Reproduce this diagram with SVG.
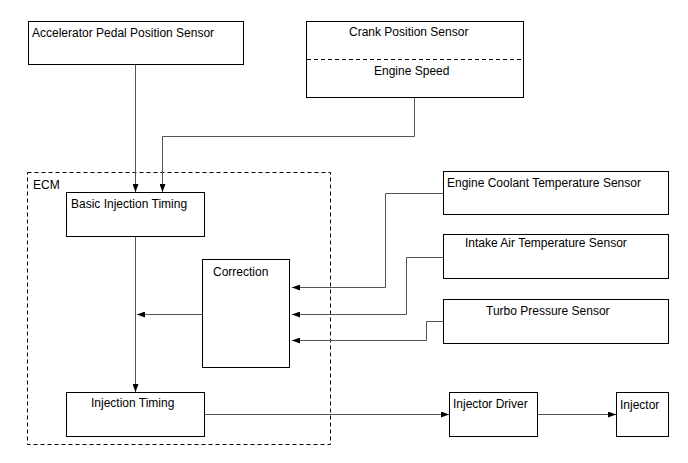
<svg xmlns="http://www.w3.org/2000/svg" width="688" height="463" viewBox="0 0 688 463">
<style>
.box{fill:#fff;stroke:#000;stroke-width:1}
.t{font-family:"Liberation Sans",Arial,sans-serif;font-size:12px;fill:#000}
.c{fill:none;stroke:#555;stroke-width:1}
.dash{fill:none;stroke:#000;stroke-width:1;stroke-dasharray:4,3}
</style>
<defs>
<marker id="ah" markerWidth="8" markerHeight="6" refX="8" refY="3" orient="auto" markerUnits="userSpaceOnUse">
<path d="M0,0 L8,3 L0,6 Z" fill="#000"/>
</marker>
</defs>
<rect width="688" height="463" fill="#fff"/>
<g id="ecm">
<rect class="dash" x="27.5" y="172.5" width="303" height="272"/>
<text class="t" x="33" y="189">ECM</text>
</g>
<g id="connectors">
<path class="c" d="M135.5,64 V192" marker-end="url(#ah)"/>
<path class="c" d="M414.5,97 V136.5 H162.5 V192" marker-end="url(#ah)"/>
<path class="c" d="M135.5,236 V392" marker-end="url(#ah)"/>
<path class="c" d="M202,314.5 H137" marker-end="url(#ah)"/>
<path class="c" d="M443,193.5 H385.5 V287.5 H292" marker-end="url(#ah)"/>
<path class="c" d="M443,257.5 H406.5 V314.5 H292" marker-end="url(#ah)"/>
<path class="c" d="M443,321.5 H426.5 V340.5 H292" marker-end="url(#ah)"/>
<path class="c" d="M204,414.5 H449" marker-end="url(#ah)"/>
<path class="c" d="M537,414.5 H616" marker-end="url(#ah)"/>
</g>
<g id="accel">
<rect class="box" x="28.5" y="21.5" width="215" height="43"/>
<text class="t" x="32" y="37">Accelerator Pedal Position Sensor</text>
</g>
<g id="crank">
<rect class="box" x="306.5" y="21.5" width="217" height="76"/>
<line class="dash" x1="307" y1="59.5" x2="523" y2="59.5"/>
<text class="t" x="349" y="36">Crank Position Sensor</text>
<text class="t" x="374" y="75">Engine Speed</text>
</g>
<g id="basic">
<rect class="box" x="66.5" y="192.5" width="138" height="44"/>
<text class="t" x="71" y="208">Basic Injection Timing</text>
</g>
<g id="correction">
<rect class="box" x="202.5" y="259.5" width="87" height="108"/>
<text class="t" x="213" y="276">Correction</text>
</g>
<g id="coolant">
<rect class="box" x="443.5" y="171.5" width="225" height="43"/>
<text class="t" x="447" y="187">Engine Coolant Temperature Sensor</text>
</g>
<g id="intake">
<rect class="box" x="443.5" y="234.5" width="225" height="44"/>
<text class="t" x="465" y="247">Intake Air Temperature Sensor</text>
</g>
<g id="turbo">
<rect class="box" x="443.5" y="299.5" width="225" height="44"/>
<text class="t" x="486" y="315">Turbo Pressure Sensor</text>
</g>
<g id="injtiming">
<rect class="box" x="66.5" y="392.5" width="138" height="44"/>
<text class="t" x="91" y="407">Injection Timing</text>
</g>
<g id="driver">
<rect class="box" x="449.5" y="392.5" width="88" height="44"/>
<text class="t" x="453" y="408">Injector Driver</text>
</g>
<g id="injector">
<rect class="box" x="616.5" y="392.5" width="52" height="44"/>
<text class="t" x="620" y="409">Injector</text>
</g>
</svg>
